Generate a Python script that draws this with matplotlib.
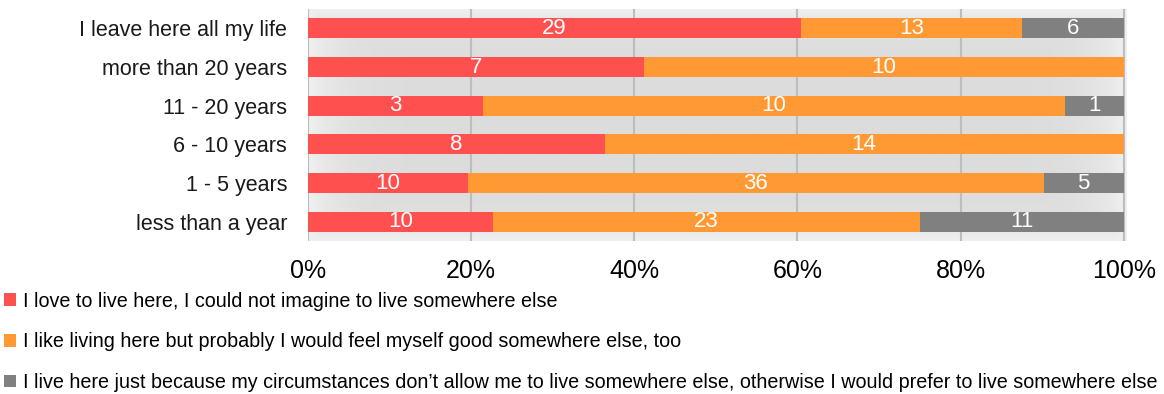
import numpy as np
import matplotlib.pyplot as plt
from matplotlib.patches import Patch

plt.rcParams['font.family'] = ['Liberation Sans', 'DejaVu Sans']

categories = ['I leave here all my life', 'more than 20 years', '11 - 20 years',
              '6 - 10 years', '1 - 5 years', 'less than a year']
love_here = [29, 7, 3, 8, 10, 10]
like_here = [13, 10, 10, 14, 36, 23]
circumstances = [6, 0, 1, 0, 5, 11]

series_names = [
    'I love to live here, I could not imagine to live somewhere else',
    'I like living here but probably I would feel myself good somewhere else, too',
    'I live here just because my circumstances don\u2019t allow me to live somewhere else, otherwise I would prefer to live somewhere else',
]
colors = ['#FF5050', '#FF9933', '#808080']

counts = np.array([love_here, like_here, circumstances], dtype=float)
totals = counts.sum(axis=0)
shares = counts / totals * 100

fig = plt.figure(figsize=(11.64, 3.94), dpi=100)
ax = fig.add_axes([0.2646, 0.388, 0.7036, 0.589])

# soft shaded plot area: darker middle, lighter towards the borders
gx = np.linspace(-1, 1, 400)
gy = np.linspace(-1, 1, 120)
X, Y = np.meshgrid(gx, gy)
edge = np.maximum(np.abs(X) ** 12, np.abs(Y) ** 6)
shade = 0.86 + 0.08 * np.clip(edge, 0, 1)
ax.imshow(shade, cmap='gray', vmin=0, vmax=1, extent=[0, 1, 0, 1],
          transform=ax.transAxes, aspect='auto', zorder=0, interpolation='bilinear')

y = np.arange(len(categories))[::-1]
left = np.zeros(len(categories))
for i in range(3):
    ax.barh(y, shares[i], left=left, height=0.52, color=colors[i], zorder=3)
    for yy, l, w, c in zip(y, left, shares[i], counts[i]):
        if c > 0:
            ax.text(l + w / 2, yy, f'{int(c)}', ha='center', va='center',
                    color='white', fontsize=16, zorder=4)
    left += shares[i]

ax.set_xlim(0, 100.4)
ax.set_ylim(-0.5, len(categories) - 0.5)
ax.set_xticks([0, 20, 40, 60, 80, 100])
ax.set_xticklabels(['0%', '20%', '40%', '60%', '80%', '100%'], fontsize=18)
ax.set_yticks(y)
ax.set_yticklabels(categories, fontsize=15.5, color='#1a1a1a')
ax.tick_params(axis='both', length=0)
ax.tick_params(axis='x', pad=13)
ax.tick_params(axis='y', pad=15)
for v in [0, 20, 40, 60, 80, 100]:
    ax.axvline(v, color='#bdbdbd', lw=1.5, zorder=1)
for s in ax.spines.values():
    s.set_visible(False)

handles = [Patch(facecolor=c, edgecolor='none') for c in colors]
fig.legend(handles, series_names, loc='upper left', bbox_to_anchor=(0.0, 0.27),
           frameon=False, fontsize=14.2, handlelength=0.6, handleheight=0.6,
           handletextpad=0.35, labelspacing=1.1, borderaxespad=0, borderpad=0.2)

fig.savefig('out.png', dpi=100)
